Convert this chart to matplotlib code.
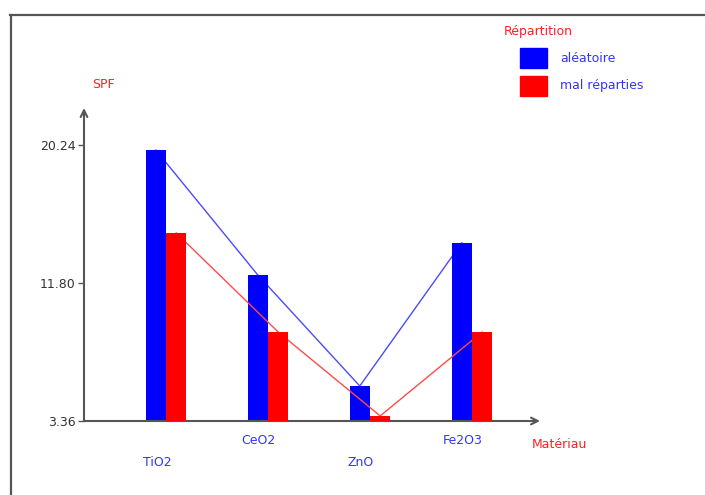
import matplotlib.pyplot as plt
from matplotlib.patches import Rectangle
from matplotlib.lines import Line2D
import matplotlib.transforms as mtransforms

# data
materials = ['TiO2', 'CeO2', 'ZnO', 'Fe2O3']
aleatoire = [19.93, 12.29, 5.50, 14.25]
mal_reparties = [14.86, 8.80, 3.67, 8.80]
yticks = [3.36, 11.80, 20.24]

W, H = 705, 495
fig = plt.figure(figsize=(W / 100, H / 100), dpi=100)

def fx(px):
    return px / W

def fy(py):
    return 1 - py / H

# plot area: x axis at y=421px, y arrow tip at 108px, from x=84px to 540px
ax = fig.add_axes([fx(84), fy(421), fx(540) - fx(84), fy(108) - fy(421)])
ax.set_xlim(-0.804, 3.667)
ax.set_ylim(3.36, 22.5)
for s in ax.spines.values():
    s.set_visible(False)

x = list(range(len(materials)))
w = 0.2
xb = [i - w / 2 for i in x]
xr = [i + w / 2 for i in x]

ax.plot(xb, aleatoire, color='#4a4aff', lw=1, zorder=1)
ax.bar(xb, aleatoire, width=w, color='#0000ff', zorder=2)
ax.plot(xr, mal_reparties, color='#ff4a4a', lw=1, zorder=3)
ax.bar(xr, mal_reparties, width=w, color='#ff0000', zorder=4)

# axes with open arrow heads
axis_col = '#555555'
ax.annotate('', xy=(1.0, 0), xytext=(0, 0), xycoords='axes fraction',
            arrowprops=dict(arrowstyle='->', color=axis_col, lw=1.5,
                            shrinkA=0, shrinkB=0, mutation_scale=12))
ax.annotate('', xy=(0, 1.0), xytext=(0, 0), xycoords='axes fraction',
            arrowprops=dict(arrowstyle='->', color=axis_col, lw=1.5,
                            shrinkA=0, shrinkB=0, mutation_scale=12))

ax.set_yticks(yticks)
ax.set_yticklabels(['%.2f' % v for v in yticks])
ax.tick_params(axis='y', length=4, width=1, color=axis_col, pad=2,
               labelsize=9, labelcolor='#333333')
ax.set_xticks([])

# staggered category labels
trans = mtransforms.blended_transform_factory(ax.transData, fig.transFigure)
label_y = [462, 441, 462, 441]
for i, name in enumerate(materials):
    ax.text(i - 0.09, fy(label_y[i]), name, transform=trans, ha='center',
            va='center', fontsize=9, color='#3333ff')

red_txt = '#ff2020'
fig.text(fx(103), fy(85), 'SPF', ha='center', va='center', fontsize=9, color=red_txt)
fig.text(fx(532), fy(445), 'Matériau', ha='left', va='center', fontsize=9, color=red_txt)

# legend
fig.text(fx(504), fy(31), 'Répartition', ha='left', va='center', fontsize=9, color=red_txt)
fig.add_artist(Rectangle((fx(520), fy(68)), fx(27), fy(48) - fy(68),
                         transform=fig.transFigure, color='#0000ff'))
fig.add_artist(Rectangle((fx(520), fy(96)), fx(27), fy(76) - fy(96),
                         transform=fig.transFigure, color='#ff0000'))
fig.text(fx(560), fy(58), 'aléatoire', ha='left', va='center', fontsize=9, color='#3333ff')
fig.text(fx(560), fy(85), 'mal réparties', ha='left', va='center', fontsize=9, color='#3333ff')

# window frame
fig.add_artist(Line2D([fx(10.7), fx(10.7)], [0, fy(15)], transform=fig.transFigure,
                      color='#555555', lw=1.6))
fig.add_artist(Line2D([fx(10), 1], [fy(15), fy(15)], transform=fig.transFigure,
                      color='#555555', lw=1.6))

fig.savefig('out.png', dpi=100)
